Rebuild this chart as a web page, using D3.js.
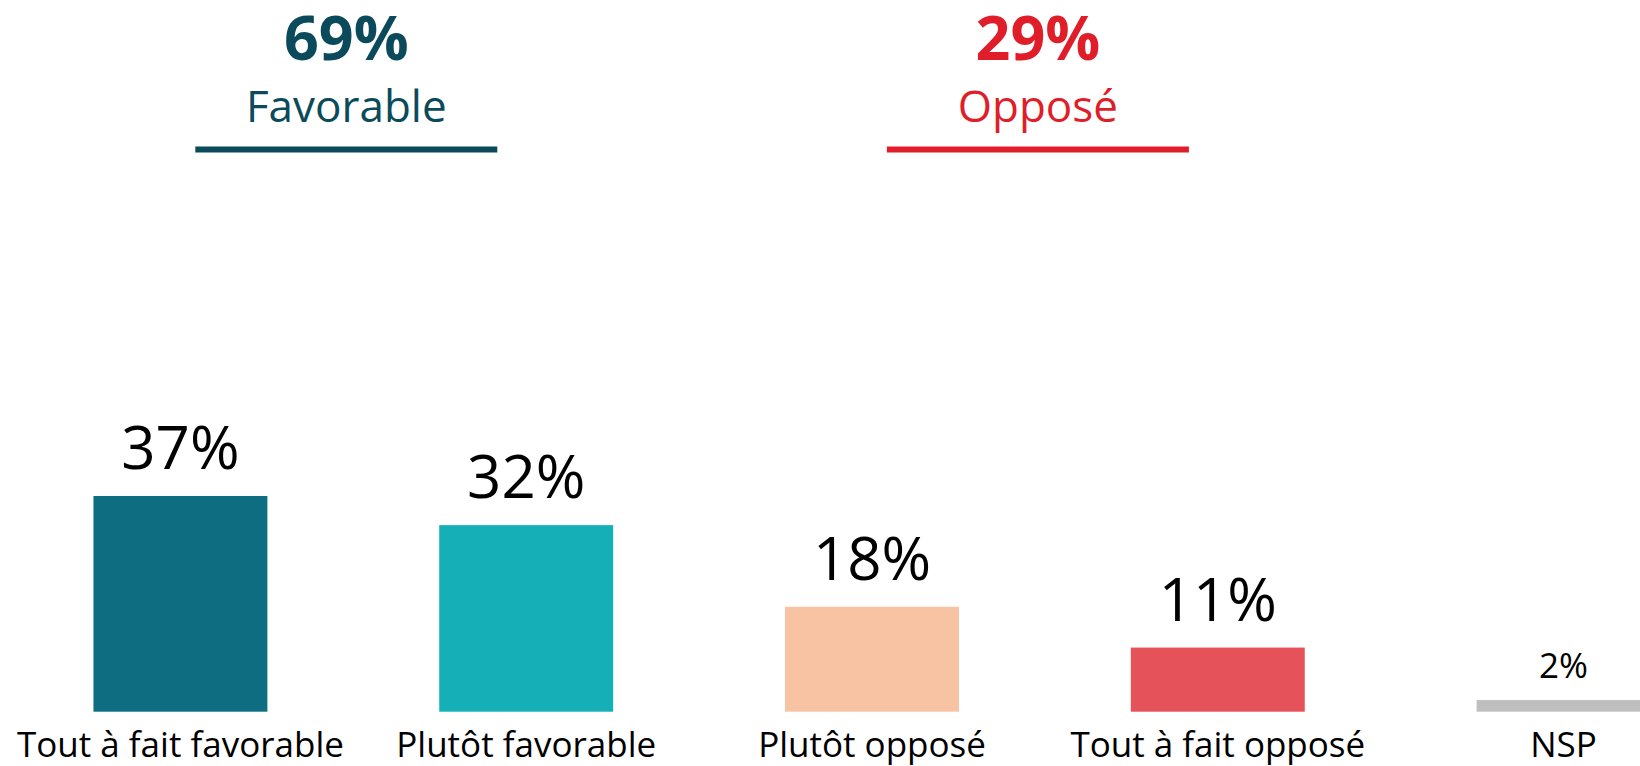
<!DOCTYPE html>
<meta charset="utf-8">
<head>
    <title>Favorable / Opposé</title>
    <script src="https://cdn.jsdelivr.net/npm/d3@7"></script>
    <style>
        body { margin: 0; background: #fff; }
        svg text { font-family: "Open Sans", "DejaVu Sans", sans-serif; }
    </style>
</head>
<body>
<div id="chart"></div>
<script>
    // data
    var categories = ["Tout à fait favorable", "Plutôt favorable", "Plutôt opposé", "Tout à fait opposé", "NSP"];
    var values = [37, 32, 18, 11, 2];
    var barColors = ["#0f6d81", "#14afb7", "#f7c3a3", "#e5525a", "#bfbfbf"];

    var groupLabels = ["Favorable", "Opposé"];
    var groupTotals = [69, 29];
    var groupMembers = [[0, 1], [2, 3]];
    var groupColors = ["#0b4a5a", "#e01e2a"];

    var w = 1640, h = 766;
    var baseY = 711.7;

    var svg = d3.select("#chart").append("svg")
        .attr("width", w)
        .attr("height", h);

    var x = d3.scaleBand()
        .domain(categories)
        .range([7, 7 + 346 * 5])
        .paddingInner(0.497)
        .paddingOuter(0.25);

    var y = d3.scaleLinear()
        .domain([0, 37])
        .range([baseY, 496]);

    var data = categories.map(function(c, i) { return {cat: c, val: values[i], col: barColors[i]}; });

    // bars
    svg.selectAll("rect.bar")
        .data(data)
        .enter().append("rect")
        .attr("class", "bar")
        .attr("x", function(d) { return x(d.cat); })
        .attr("y", function(d) { return y(d.val); })
        .attr("width", x.bandwidth())
        .attr("height", function(d) { return baseY - y(d.val); })
        .attr("fill", function(d) { return d.col; });

    // value labels (small bar gets a smaller label)
    svg.selectAll("text.val")
        .data(data)
        .enter().append("text")
        .attr("class", "val")
        .attr("text-anchor", "middle")
        .attr("x", function(d) { return x(d.cat) + x.bandwidth() / 2; })
        .attr("y", function(d) { return y(d.val) - (d.val < 5 ? 22 : 27); })
        .attr("font-size", function(d) { return d.val < 5 ? "35px" : "60px"; })
        .attr("fill", "#000")
        .text(function(d) { return d.val + "%"; });

    // category labels
    svg.selectAll("text.cat")
        .data(data)
        .enter().append("text")
        .attr("class", "cat")
        .attr("text-anchor", "middle")
        .attr("x", function(d) { return x(d.cat) + x.bandwidth() / 2; })
        .attr("y", 757)
        .attr("font-size", "35px")
        .attr("fill", "#000")
        .text(function(d) { return d.cat; });

    // group headers
    groupLabels.forEach(function(lab, g) {
        var m = groupMembers[g];
        var cx = (x(categories[m[0]]) + x(categories[m[m.length - 1]]) + x.bandwidth()) / 2 - 7;
        var hg = svg.append("g").attr("fill", groupColors[g]);
        hg.append("text")
            .attr("x", cx).attr("y", 60)
            .attr("text-anchor", "middle")
            .attr("font-size", "61px")
            .attr("font-weight", "bold")
            .text(groupTotals[g] + "%");
        hg.append("text")
            .attr("x", cx).attr("y", 122)
            .attr("text-anchor", "middle")
            .attr("font-size", "44px")
            .text(lab);
        hg.append("line")
            .attr("x1", cx - 151).attr("x2", cx + 151)
            .attr("y1", 149.5).attr("y2", 149.5)
            .attr("stroke", groupColors[g])
            .attr("stroke-width", 6);
    });
</script>
</body>
</html>
